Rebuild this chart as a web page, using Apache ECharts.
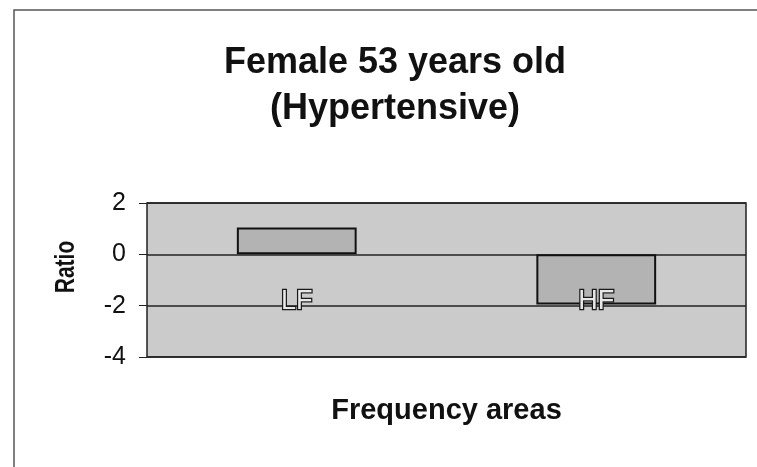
<!DOCTYPE html>
<html>
<head>
<meta charset="utf-8">
<script src="https://cdn.jsdelivr.net/npm/echarts@6/dist/echarts.min.js"></script>
<style>html,body{margin:0;padding:0;background:#fff}#c{width:757px;height:467px}</style>
</head>
<body>
<div id="c"></div>
<script>
const categories = ['LF', 'HF'];
const ratioValues = [1.05, -1.95];
const yTicks = [-4, -2, 0, 2];

const FONT = 'Liberation Sans, Arial';
const chart = echarts.init(document.getElementById('c'), null, {renderer: 'canvas'});
chart.setOption({
  backgroundColor: '#ffffff',
  animation: false,
  title: {
    text: 'Female 53 years old\n(Hypertensive)',
    left: 390, top: 35, textAlign: 'center',
    textStyle: {fontFamily: FONT, fontWeight: 'bold', fontSize: 36, color: '#111', lineHeight: 46}
  },
  graphic: [{
    type: 'polyline', silent: true,
    shape: {points: [[14, 467], [14, 10], [757, 10]]},
    style: {stroke: '#555', lineWidth: 1.5, fill: null}
  }, {
    type: 'text', silent: true,
    x: 66, y: 267, rotation: Math.PI / 2, scaleX: 0.78, scaleY: 1.05,
    style: {text: 'Ratio', font: 'bold 27px ' + FONT, fill: '#111', align: 'center', verticalAlign: 'middle'}
  }],
  grid: {
    left: 147, right: 11, top: 203, height: 154,
    show: true, backgroundColor: '#cbcbcb', borderColor: '#222', borderWidth: 1.5
  },
  xAxis: {
    type: 'category', data: categories, z: 10,
    name: 'Frequency areas', nameLocation: 'middle', nameGap: 39,
    nameTextStyle: {fontFamily: FONT, fontWeight: 'bold', fontSize: 29, color: '#111'},
    axisLine: {show: false}, axisTick: {show: false},
    axisLabel: {
      margin: -69, fontFamily: FONT, fontSize: 27,
      color: '#e8e8e8', textBorderColor: '#1a1a1a', textBorderWidth: 2.5
    }
  },
  yAxis: {
    type: 'value', min: yTicks[0], max: yTicks[yTicks.length - 1], interval: 2,
    axisLine: {show: false},
    axisTick: {show: true, length: 8, lineStyle: {color: '#222'}},
    axisLabel: {margin: 21, fontFamily: FONT, fontSize: 25, color: '#111'},
    splitLine: {show: true, lineStyle: {color: '#222', width: 1.5}}
  },
  series: [{
    type: 'bar', data: ratioValues, barWidth: '40%', z: 2,
    itemStyle: {color: '#b3b3b3', borderColor: '#111', borderWidth: 2}
  }]
});
</script>
</body>
</html>
